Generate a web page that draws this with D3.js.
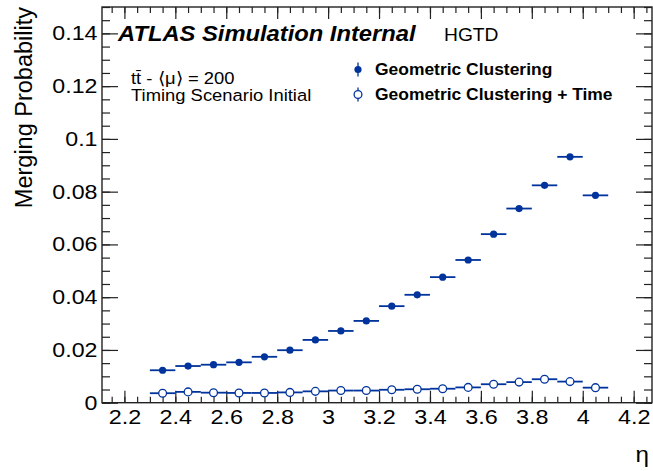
<!DOCTYPE html>
<html>
<head>
<meta charset="utf-8">
<script src="https://cdn.jsdelivr.net/npm/d3@7"></script>
<style>
  html, body { margin: 0; padding: 0; background: #fff; }
  svg { display: block; }
  text { font-family: "Liberation Sans", Arial, Helvetica, sans-serif; fill: #000; }
</style>
</head>
<body>
<svg id="chart" width="653" height="471"></svg>
<script>
// Bin centres in eta (bin width 0.1)
const etaBins = [2.35, 2.45, 2.55, 2.65, 2.75, 2.85, 2.95, 3.05, 3.15, 3.25,
                 3.35, 3.45, 3.55, 3.65, 3.75, 3.85, 3.95, 4.05];
const binWidth = 0.1;

// Merging probability per bin
const geometric = [0.0123, 0.0139, 0.0144, 0.0153, 0.0174, 0.0199, 0.0238, 0.0272, 0.0310,
                   0.0366, 0.0409, 0.0476, 0.0541, 0.0639, 0.0736, 0.0824, 0.0932, 0.0786];
const geometricTime = [0.0036, 0.0041, 0.0038, 0.0037, 0.0037, 0.0039, 0.0043, 0.0046, 0.0046,
                       0.0049, 0.0051, 0.0053, 0.0058, 0.0070, 0.0078, 0.0089, 0.0080, 0.0057];

// Axis ticks
const xMajor = [2.2, 2.4, 2.6, 2.8, 3.0, 3.2, 3.4, 3.6, 3.8, 4.0, 4.2];
const xMajorLabels = ["2.2", "2.4", "2.6", "2.8", "3", "3.2", "3.4", "3.6", "3.8", "4", "4.2"];
const yMajor = [0, 0.02, 0.04, 0.06, 0.08, 0.10, 0.12, 0.14];
const yMajorLabels = ["0", "0.02", "0.04", "0.06", "0.08", "0.1", "0.12", "0.14"];

const seriesNames = ["Geometric Clustering", "Geometric Clustering + Time"];

const blue = "#00339c";
const plot = { left: 102, right: 652, top: 7, bottom: 402.7 };

const svg = d3.select("#chart");
const x = d3.scaleLinear().domain([2.112, 4.272]).range([plot.left, plot.right]);
const y = d3.scaleLinear().domain([0, 0.15]).range([plot.bottom, plot.top]);

const xMinor = d3.range(2.15, 4.2701, 0.05).map(v => +v.toFixed(2));
const yMinor = d3.range(0, 0.1501, 0.005).map(v => +v.toFixed(3));

// Text with a slightly widened (Helvetica-like) glyph shape
function label(parent, tx, ty, str, opts = {}) {
  const sx = opts.sx || 1;
  return parent.append("text")
    .attr("transform", `translate(${tx},${ty}) scale(${sx},1)`)
    .attr("text-anchor", opts.anchor || "start")
    .style("font-size", (opts.size || 16) + "px")
    .style("font-weight", opts.weight || "normal")
    .style("font-style", opts.style || "normal")
    .text(str);
}

// Ticks on all four sides, pointing inwards
const axisStyle = g => {
  g.select(".domain").remove();
  g.selectAll(".tick line").attr("stroke", "#222").attr("stroke-width", 1.2);
  g.selectAll(".tick text").remove();
};
svg.append("g").attr("transform", `translate(0,${plot.bottom})`)
  .call(d3.axisBottom(x).tickValues(xMinor).tickSize(-6)).call(axisStyle);
svg.append("g").attr("transform", `translate(0,${plot.bottom})`)
  .call(d3.axisBottom(x).tickValues(xMajor).tickSize(-12)).call(axisStyle);
svg.append("g").attr("transform", `translate(0,${plot.top})`)
  .call(d3.axisTop(x).tickValues(xMinor).tickSize(-6)).call(axisStyle);
svg.append("g").attr("transform", `translate(0,${plot.top})`)
  .call(d3.axisTop(x).tickValues(xMajor).tickSize(-12)).call(axisStyle);
svg.append("g").attr("transform", `translate(${plot.left},0)`)
  .call(d3.axisLeft(y).tickValues(yMinor).tickSize(-8)).call(axisStyle);
svg.append("g").attr("transform", `translate(${plot.left},0)`)
  .call(d3.axisLeft(y).tickValues(yMajor).tickSize(-16)).call(axisStyle);
svg.append("g").attr("transform", `translate(${plot.right},0)`)
  .call(d3.axisRight(y).tickValues(yMinor).tickSize(-8)).call(axisStyle);
svg.append("g").attr("transform", `translate(${plot.right},0)`)
  .call(d3.axisRight(y).tickValues(yMajor).tickSize(-16)).call(axisStyle);

// Frame
svg.append("rect")
  .attr("x", plot.left).attr("y", plot.top)
  .attr("width", plot.right - plot.left).attr("height", plot.bottom - plot.top)
  .attr("fill", "none").attr("stroke", "#222").attr("stroke-width", 1.4);

// Tick labels
const xLab = svg.append("g");
xMajor.forEach((v, i) => label(xLab, x(v) + 0.5, 424, xMajorLabels[i], { size: 19.5, sx: 1.2, anchor: "middle" }));
const yLab = svg.append("g");
yMajor.forEach((v, i) => label(yLab, 97.5, y(v) + 7, yMajorLabels[i], { size: 19.5, sx: 1.19, anchor: "end" }));

// Axis titles
svg.append("text")
  .attr("transform", `translate(32,${plot.top}) rotate(-90)`)
  .attr("text-anchor", "end")
  .style("font-size", "23.5px")
  .text("Merging Probability");
label(svg, plot.right - 3, 462, "η", { size: 22, sx: 1.1, anchor: "end" });

// Data series: horizontal bin-width bars with markers
function drawSeries(values, filled) {
  const g = svg.append("g");
  g.selectAll("line").data(values).join("line")
    .attr("x1", (d, i) => x(etaBins[i] - binWidth / 2))
    .attr("x2", (d, i) => x(etaBins[i] + binWidth / 2))
    .attr("y1", d => y(d)).attr("y2", d => y(d))
    .attr("stroke", blue).attr("stroke-width", 1.8);
  g.selectAll("circle").data(values).join("circle")
    .attr("cx", (d, i) => x(etaBins[i]))
    .attr("cy", d => y(d))
    .attr("r", filled ? 3.6 : 3.9)
    .attr("fill", filled ? blue : "#fff")
    .attr("stroke", blue).attr("stroke-width", filled ? 0 : 1.3);
}
drawSeries(geometric, true);
drawSeries(geometricTime, false);

// Labels
label(svg, 118, 41, "ATLAS Simulation Internal", { size: 22, sx: 1.08, weight: "bold", style: "italic" });
label(svg, 444, 41, "HGTD", { size: 17.5, sx: 1.1 });
label(svg, 131, 83.5, "tt\u0304 - \u27E8\u03BC\u27E9 = 200", { size: 16.5, sx: 1.115 });
label(svg, 131, 101, "Timing Scenario Initial", { size: 16.5, sx: 1.115 });

// Legend
const legendRows = [
  { name: seriesNames[0], filled: true, y: 69.5 },
  { name: seriesNames[1], filled: false, y: 94.5 }
];
const leg = svg.append("g");
legendRows.forEach(r => {
  leg.append("line")
    .attr("x1", 358).attr("x2", 358).attr("y1", r.y - 7).attr("y2", r.y + 7)
    .attr("stroke", blue).attr("stroke-width", 1.3);
  leg.append("circle")
    .attr("cx", 358).attr("cy", r.y).attr("r", r.filled ? 3.6 : 3.9)
    .attr("fill", r.filled ? blue : "#fff")
    .attr("stroke", blue).attr("stroke-width", r.filled ? 0 : 1.3);
  label(leg, 375, r.y + 5.8, r.name, { size: 16.3, sx: 1.07, weight: "bold" });
});
</script>
</body>
</html>
